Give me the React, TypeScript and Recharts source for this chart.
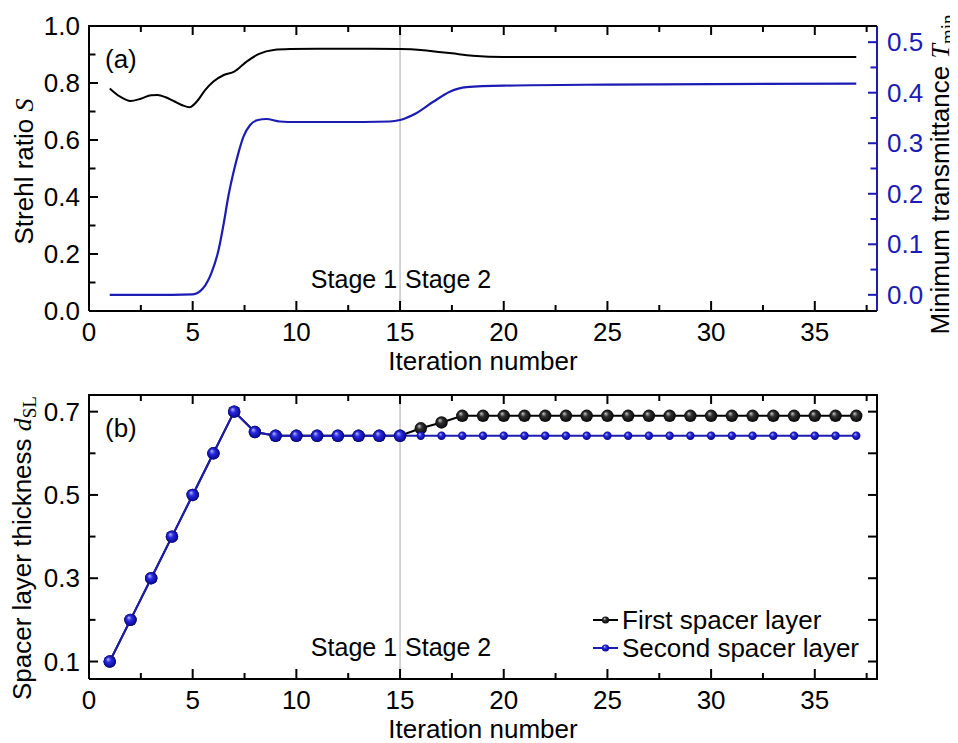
import { LineChart, Line, XAxis, YAxis, ReferenceLine } from "recharts";

const FONT = "'Liberation Sans', Arial, sans-serif";
const SERIF = "'Liberation Serif', 'Times New Roman', serif";
const BLUE = "#1c1cb4";
const FS = 26;

// panel (a): Strehl ratio (left axis)
const strehlIter = [1, 1.5, 2, 2.5, 3, 3.3, 3.7, 4.1, 4.5, 4.85, 5.2, 5.6, 6, 6.5, 7, 7.6, 8.2, 8.9, 9.7, 11, 13, 15, 16, 17, 17.5, 18.5, 20, 25, 30, 37];
const strehlVals = [0.781, 0.752, 0.737, 0.745, 0.757, 0.758, 0.75, 0.736, 0.722, 0.715, 0.735, 0.775, 0.805, 0.828, 0.84, 0.875, 0.902, 0.916, 0.919, 0.92, 0.92, 0.919, 0.916, 0.908, 0.904, 0.896, 0.891, 0.891, 0.891, 0.891];

// panel (a): minimum transmittance (right axis)
const tminIter = [1, 3, 5, 5.5, 5.9, 6.25, 6.5, 6.72, 6.96, 7.2, 7.45, 7.77, 8.15, 8.55, 9.2, 10, 12, 14.5, 15, 15.8, 16.6, 17.4, 18.2, 20, 25, 30, 37];
const tminVals = [0.0, 0.0, 0.001, 0.013, 0.043, 0.089, 0.142, 0.195, 0.241, 0.28, 0.313, 0.336, 0.346, 0.348, 0.343, 0.342, 0.342, 0.343, 0.346, 0.36, 0.382, 0.402, 0.411, 0.414, 0.416, 0.417, 0.418];

// panel (b): spacer layer thickness
const iterations = [1, 2, 3, 4, 5, 6, 7, 8, 9, 10, 11, 12, 13, 14, 15, 16, 17, 18, 19, 20, 21, 22, 23, 24, 25, 26, 27, 28, 29, 30, 31, 32, 33, 34, 35, 36, 37];
const firstLayer = [0.1, 0.2, 0.3, 0.4, 0.5, 0.6, 0.7, 0.651, 0.642, 0.642, 0.642, 0.642, 0.642, 0.642, 0.642, 0.66, 0.674, 0.69, 0.69, 0.69, 0.69, 0.69, 0.69, 0.69, 0.69, 0.69, 0.69, 0.69, 0.69, 0.69, 0.69, 0.69, 0.69, 0.69, 0.69, 0.69, 0.69];
const secondLayer = [0.1, 0.2, 0.3, 0.4, 0.5, 0.6, 0.7, 0.651, 0.642, 0.642, 0.642, 0.642, 0.642, 0.642, 0.642, 0.642, 0.642, 0.642, 0.642, 0.642, 0.642, 0.642, 0.642, 0.642, 0.642, 0.642, 0.642, 0.642, 0.642, 0.642, 0.642, 0.642, 0.642, 0.642, 0.642, 0.642, 0.642];
const seriesNames = ["First spacer layer", "Second spacer layer"];

const X_DOMAIN: [number, number] = [0, 38];
const S_DOMAIN: [number, number] = [0, 1];
const T_DOMAIN: [number, number] = [-0.032, 0.532];
const D_DOMAIN: [number, number] = [0.058, 0.74];
const xTicks = [0, 2.5, 5, 7.5, 10, 12.5, 15, 17.5, 20, 22.5, 25, 27.5, 30, 32.5, 35, 37.5];
const strehlTicks = [0, 0.1, 0.2, 0.3, 0.4, 0.5, 0.6, 0.7, 0.8, 0.9, 1.0];
const tminTicks = [0, 0.05, 0.1, 0.15, 0.2, 0.25, 0.3, 0.35, 0.4, 0.45, 0.5];
const thickTicks = [0.1, 0.2, 0.3, 0.4, 0.5, 0.6, 0.7];
const STAGE_SPLIT = 15;

const strehlData = strehlIter.map((x, i) => ({ x, v: strehlVals[i] }));
const tminData = tminIter.map((x, i) => ({ x, v: tminVals[i] }));
const firstData = iterations.map((x, i) => ({ x, v: firstLayer[i] }));
const secondData = iterations.map((x, i) => ({ x, v: secondLayer[i] }));

// plot boxes in page px (follow from the chart sizes and margins below)
const BOX_L = 89;
const BOX_R = 877;
const BOX_A = { top: 26, bottom: 311 };
const BOX_B = { top: 395, bottom: 679 };

const multOf = (v: number, step: number) => Math.abs(v / step - Math.round(v / step)) < 1e-6;

function xTick(p: any) {
  const { x, y, payload } = p;
  const v = payload.value as number;
  const major = multOf(v, 5);
  return (
    <g>
      <line x1={x} x2={x} y1={y} y2={y - (major ? 10 : 6)} stroke="#000" strokeWidth={2} />
      {major && (
        <text x={x} y={y + 30} textAnchor="middle" fontSize={FS} fontFamily={FONT} fill="#000">{String(v)}</text>
      )}
    </g>
  );
}

function makeYTick(side: "left" | "right", isMajor: (v: number) => boolean, color: string) {
  return (p: any) => {
    const { x, y, payload } = p;
    const v = payload.value as number;
    const major = isMajor(v);
    const len = major ? 9 : 6.5;
    const dir = side === "left" ? 1 : -1;
    return (
      <g>
        <line x1={x} x2={x + dir * len} y1={y} y2={y} stroke={color} strokeWidth={2} />
        {major && (
          <text x={side === "left" ? x - 9 : x + 10} y={y + 9} textAnchor={side === "left" ? "end" : "start"} fontSize={FS} fontFamily={FONT} fill={color}>
            {v.toFixed(1)}
          </text>
        )}
      </g>
    );
  };
}

const StageLabel = (props: any) => {
  const vb = props.viewBox;
  const yb = vb.y + vb.height - 23;
  return (
    <g fontFamily={FONT} fontSize={25} fill="#000">
      <text x={vb.x - 3} y={yb} textAnchor="end">Stage 1</text>
      <text x={vb.x + 5} y={yb} textAnchor="start">Stage 2</text>
    </g>
  );
};

const panelTag = (tag: string) => (props: any) => {
  const vb = props.viewBox;
  return (
    <text x={vb.x + 16} y={vb.y + 42} fontFamily={FONT} fontSize={FS} fill="#000">{tag}</text>
  );
};

const xTitle = (props: any) => {
  const vb = props.viewBox;
  return (
    <text x={vb.x + vb.width / 2} y={vb.y + 59} textAnchor="middle" fontFamily={FONT} fontSize={FS} fill="#000">Iteration number</text>
  );
};

const LegendBox = (props: any) => {
  const vb = props.viewBox;
  const rows = [
    { name: seriesNames[0], color: "#000", fill: "url(#blackBall)" },
    { name: seriesNames[1], color: BLUE, fill: "url(#blueBall)" },
  ];
  const x0 = vb.x - 284;
  return (
    <g>
      {rows.map((r, i) => {
        const cy = vb.y + 225 + i * 28;
        return (
          <g key={r.name}>
            <line x1={x0} x2={x0 + 25} y1={cy} y2={cy} stroke={r.color} strokeWidth={2} />
            <circle cx={x0 + 12.5} cy={cy} r={3.6} fill={r.fill} />
            <text x={x0 + 29} y={cy + 9} fontFamily={FONT} fontSize={FS} fill="#000">{r.name}</text>
          </g>
        );
      })}
    </g>
  );
};

function BlueDot(props: any) {
  const { cx, cy, payload, index } = props;
  const r = payload.x <= STAGE_SPLIT ? 6.2 : 4.2;
  return <circle key={`b-${index}`} cx={cx} cy={cy} r={r} fill="url(#blueBall)" />;
}
function BlackDot(props: any) {
  const { cx, cy, index } = props;
  return <circle key={`k-${index}`} cx={cx} cy={cy} r={6.2} fill="url(#blackBall)" />;
}

function TopPanel() {
  return (
    <LineChart width={958} height={380} margin={{ top: 26, right: 21, bottom: 29, left: 19 }}>
      <XAxis xAxisId="b" type="number" dataKey="x" domain={X_DOMAIN} ticks={xTicks} interval={0} tickSize={0} tickMargin={0} tickLine={false} tick={xTick} axisLine={{ stroke: "#000", strokeWidth: 2 }} height={40} label={xTitle} />
      <YAxis
        yAxisId="l"
        type="number"
        domain={S_DOMAIN}
        ticks={strehlTicks}
        interval={0}
        tickSize={0}
        tickMargin={0}
        tickLine={false}
        tick={makeYTick("left", (v) => multOf(v, 0.2), "#000")}
        axisLine={{ stroke: "#000", strokeWidth: 2 }}
        width={70}
        label={(props: any) => {
          const vb = props.viewBox;
          const cx = vb.x + 14;
          const cy = vb.y + vb.height / 2 + 3;
          return (
            <text x={cx} y={cy} transform={`rotate(-90, ${cx}, ${cy})`} textAnchor="middle" fontFamily={FONT} fontSize={FS} fill="#000">
              Strehl ratio <tspan fontFamily={SERIF} fontStyle="italic">S</tspan>
            </text>
          );
        }}
      />
      <YAxis
        yAxisId="r"
        orientation="right"
        type="number"
        domain={T_DOMAIN}
        ticks={tminTicks}
        interval={0}
        tickSize={0}
        tickMargin={0}
        tickLine={false}
        tick={makeYTick("right", (v) => multOf(v, 0.1), BLUE)}
        axisLine={{ stroke: BLUE, strokeWidth: 2 }}
        width={60}
        label={(props: any) => {
          const vb = props.viewBox;
          const cx = vb.x + 72;
          const cy = vb.y + vb.height / 2 + 6;
          return (
            <text x={cx} y={cy} transform={`rotate(-90, ${cx}, ${cy})`} textAnchor="middle" fontFamily={FONT} fontSize={FS} fill="#000">
              Minimum transmittance <tspan fontFamily={SERIF} fontStyle="italic">T</tspan>
              <tspan fontFamily={SERIF} fontSize={19} dy={5}>min</tspan>
            </text>
          );
        }}
      />
      <ReferenceLine xAxisId="b" yAxisId="l" y={S_DOMAIN[1]} stroke="#000" strokeWidth={2} label={panelTag("(a)")} />
      <ReferenceLine xAxisId="b" yAxisId="l" x={STAGE_SPLIT} stroke="#c4c4c4" strokeWidth={1.5} label={StageLabel} />
      <Line xAxisId="b" yAxisId="l" data={strehlData} dataKey="v" type="monotone" stroke="#000" strokeWidth={2} dot={false} activeDot={false} isAnimationActive={false} />
      <Line xAxisId="b" yAxisId="r" data={tminData} dataKey="v" type="monotone" stroke={BLUE} strokeWidth={2.2} dot={false} activeDot={false} isAnimationActive={false} />
    </LineChart>
  );
}

function BottomPanel() {
  return (
    <LineChart width={958} height={371} margin={{ top: 23, right: 81, bottom: 24, left: 19 }}>
      <defs>
        <radialGradient id="blueBall" cx="50%" cy="50%" r="55%" fx="35%" fy="30%">
          <stop offset="0%" stopColor="#b8b8ff" />
          <stop offset="38%" stopColor="#2a2ae0" />
          <stop offset="100%" stopColor="#000080" />
        </radialGradient>
        <radialGradient id="blackBall" cx="50%" cy="50%" r="55%" fx="35%" fy="30%">
          <stop offset="0%" stopColor="#c8c8c8" />
          <stop offset="38%" stopColor="#303030" />
          <stop offset="100%" stopColor="#000" />
        </radialGradient>
      </defs>
      <XAxis xAxisId="b" type="number" dataKey="x" domain={X_DOMAIN} ticks={xTicks} interval={0} tickSize={0} tickMargin={0} tickLine={false} tick={xTick} axisLine={{ stroke: "#000", strokeWidth: 2 }} height={40} label={xTitle} />
      <YAxis
        yAxisId="l"
        type="number"
        domain={D_DOMAIN}
        ticks={thickTicks}
        interval={0}
        tickSize={0}
        tickMargin={0}
        tickLine={false}
        tick={makeYTick("left", (v) => Math.round(v * 10) % 2 === 1, "#000")}
        axisLine={{ stroke: "#000", strokeWidth: 2 }}
        width={70}
        label={(props: any) => {
          const vb = props.viewBox;
          const cx = vb.x + 12;
          const cy = vb.y + vb.height / 2 + 11;
          return (
            <text x={cx} y={cy} transform={`rotate(-90, ${cx}, ${cy})`} textAnchor="middle" fontFamily={FONT} fontSize={FS} fill="#000">
              Spacer layer thickness <tspan fontFamily={SERIF} fontStyle="italic">d</tspan>
              <tspan fontFamily={SERIF} fontSize={19} dy={5}>SL</tspan>
            </text>
          );
        }}
      />
      <ReferenceLine xAxisId="b" yAxisId="l" y={D_DOMAIN[1]} stroke="#000" strokeWidth={2} label={panelTag("(b)")} />
      <ReferenceLine xAxisId="b" yAxisId="l" x={X_DOMAIN[1]} stroke="#000" strokeWidth={2} label={LegendBox} />
      <ReferenceLine xAxisId="b" yAxisId="l" x={STAGE_SPLIT} stroke="#c4c4c4" strokeWidth={1.5} label={StageLabel} />
      <Line xAxisId="b" yAxisId="l" data={firstData} dataKey="v" name={seriesNames[0]} type="linear" stroke="#000" strokeWidth={2} dot={BlackDot} activeDot={false} isAnimationActive={false} />
      <Line xAxisId="b" yAxisId="l" data={secondData} dataKey="v" name={seriesNames[1]} type="linear" stroke={BLUE} strokeWidth={2} dot={BlueDot} activeDot={false} isAnimationActive={false} />
    </LineChart>
  );
}

// frame edges (top, and right for panel b) with their inward mirror ticks
function FrameOverlay() {
  const xPx = (v: number) => BOX_L + ((v - X_DOMAIN[0]) / (X_DOMAIN[1] - X_DOMAIN[0])) * (BOX_R - BOX_L);
  const dPx = (v: number) => BOX_B.bottom - ((v - D_DOMAIN[0]) / (D_DOMAIN[1] - D_DOMAIN[0])) * (BOX_B.bottom - BOX_B.top);
  return (
    <svg width={958} height={743} style={{ position: "absolute", left: 0, top: 0, pointerEvents: "none" }}>
      <g stroke="#000" strokeWidth={2}>
        <line x1={BOX_L - 1} x2={BOX_R} y1={BOX_A.top} y2={BOX_A.top} />
        <line x1={BOX_L - 1} x2={BOX_R + 1} y1={BOX_B.top} y2={BOX_B.top} />
        <line x1={BOX_R} x2={BOX_R} y1={BOX_B.top} y2={BOX_B.bottom + 1} />
        {xTicks.map((v) => {
          const len = multOf(v, 5) ? 9 : 6;
          const x = xPx(v);
          return (
            <g key={`xt-${v}`}>
              <line x1={x} x2={x} y1={BOX_A.top} y2={BOX_A.top + len} />
              <line x1={x} x2={x} y1={BOX_B.top} y2={BOX_B.top + len} />
            </g>
          );
        })}
        {thickTicks.map((v) => (
          <line key={`dt-${v}`} x1={BOX_R} x2={BOX_R - 9} y1={dPx(v)} y2={dPx(v)} />
        ))}
      </g>
    </svg>
  );
}

export default function App() {
  return (
    <div style={{ position: "relative", margin: "-8px 0 0 -8px", width: 958, height: 743, background: "#fff" }}>
      <TopPanel />
      <div style={{ marginTop: -8 }}>
        <BottomPanel />
      </div>
      <FrameOverlay />
    </div>
  );
}
